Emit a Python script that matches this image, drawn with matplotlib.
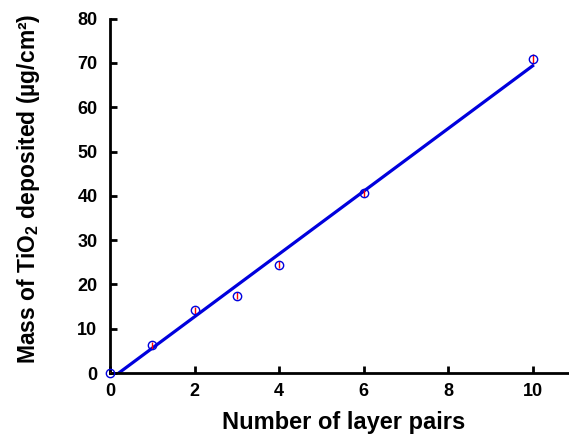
import numpy as np
import matplotlib
matplotlib.use("Agg")
from matplotlib import pyplot as plt

plt.rcParams['font.family'] = ['Liberation Sans', 'DejaVu Sans']
plt.rcParams['font.weight'] = 'bold'
plt.rcParams['mathtext.fontset'] = 'custom'
plt.rcParams['mathtext.rm'] = 'Liberation Sans:bold'
plt.rcParams['mathtext.bf'] = 'Liberation Sans:bold'

layer_pairs = [0, 1, 2, 3, 4, 6, 10]
mass = [0, 6.3, 14.2, 17.4, 24.4, 40.6, 70.9]
mass_err = [0.3, 0.8, 0.8, 0.8, 0.8, 0.8, 1.2]

fig = plt.figure(figsize=(5.69, 4.43), dpi=100)
ax = fig.add_axes([0.1933, 0.158, 0.817, 0.80])

# linear fit
slope, intercept = np.polyfit(layer_pairs, mass, 1)
xf = np.array([0, 10])
ax.plot(xf, slope * xf + intercept, color='#0000dd', lw=2.3, zorder=2)

ax.errorbar(layer_pairs, mass, yerr=mass_err, fmt='none', ecolor='red',
            elinewidth=1, capsize=0, zorder=3)
ax.plot(layer_pairs, mass, 'o', mfc='none', mec='#0000dd', ms=6, mew=1,
        clip_on=False, zorder=4)

ax.set_xlim(0, 11)
ax.set_ylim(0, 80)
ax.set_xticks([0, 2, 4, 6, 8, 10])
ax.set_yticks(range(0, 81, 10))
ax.spines['top'].set_visible(False)
ax.spines['right'].set_visible(False)
for s in ['left', 'bottom']:
    ax.spines[s].set_linewidth(2)
ax.tick_params(direction='in', length=5, width=2, labelsize=13)
ax.tick_params(axis='y', pad=9)
ax.tick_params(axis='x', pad=7)
for lab in ax.get_xticklabels() + ax.get_yticklabels():
    lab.set_fontweight('bold')

xl = ax.set_xlabel('Number of layer pairs', fontsize=17, fontweight='bold')
xl.set_va('center')
ax.xaxis.set_label_coords(0.502, -0.141)
yl = ax.set_ylabel('Mass of TiO$_2$ deposited (\u00b5g/cm\u00b2)', fontsize=16.5,
                   fontweight='bold')
yl.set_va('center')
ax.yaxis.set_label_coords(-0.176, 0.52)

fig.savefig('out.png', dpi=100)
